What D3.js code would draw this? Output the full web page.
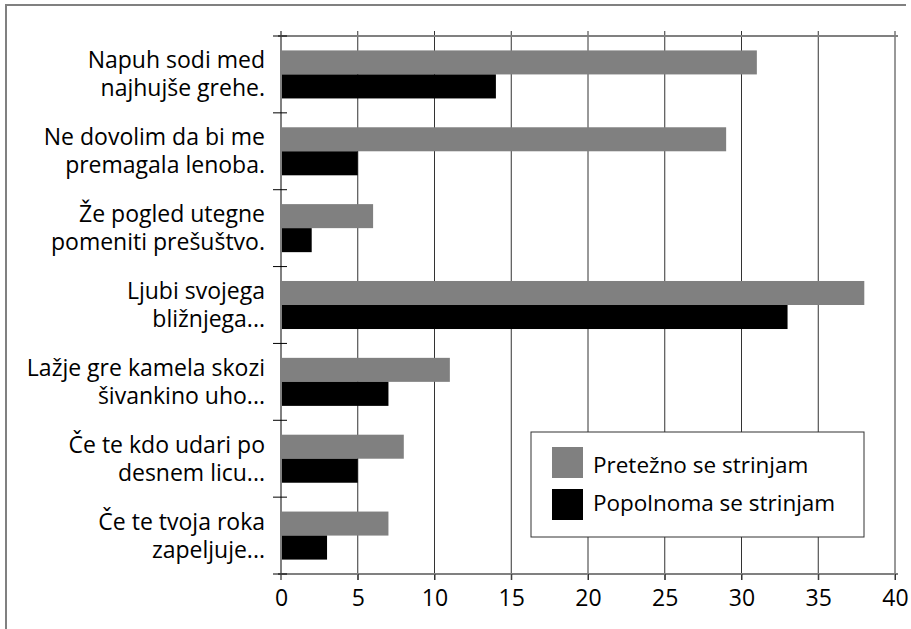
<!DOCTYPE html>
<html>
<head>
<meta charset="utf-8">
<script src="https://cdnjs.cloudflare.com/ajax/libs/d3/7.8.5/d3.min.js"></script>
<style>
  body { margin: 0; background: #fff; }
  text { font-family: "Open Sans", sans-serif; fill: #000; }
</style>
</head>
<body>
<div id="chart"></div>
<script>
// podatki
const categories = [
  ["Napuh sodi med", "najhujše grehe."],
  ["Ne dovolim da bi me", "premagala lenoba."],
  ["Že pogled utegne", "pomeniti prešuštvo."],
  ["Ljubi svojega", "bližnjega..."],
  ["Lažje gre kamela skozi", "šivankino uho..."],
  ["Če te kdo udari po", "desnem licu..."],
  ["Če te tvoja roka", "zapeljuje..."]
];
const seriesNames = ["Pretežno se strinjam", "Popolnoma se strinjam"];
const pretezno = [31, 29, 6, 38, 11, 8, 7];
const popolnoma = [14, 5, 2, 33, 7, 5, 3];
const xTicks = [0, 5, 10, 15, 20, 25, 30, 35, 40];
const colors = ["#808080", "#000000"];

const width = 911, height = 629;
const margin = { top: 36, left: 281 };
const innerWidth = 895 - margin.left;
const innerHeight = 574 - margin.top;

const svg = d3.select("#chart").append("svg")
  .attr("width", width).attr("height", height);

// okvir (viden samo levi in zgornji rob)
svg.append("path").attr("d", "M6,629V5H906")
  .attr("fill", "none").attr("stroke", "#808080").attr("stroke-width", 2);

const g = svg.append("g").attr("transform", `translate(${margin.left},${margin.top})`);

const x = d3.scaleLinear().domain([0, 40]).range([0, innerWidth]);
const y = d3.scaleBand().domain(d3.range(categories.length)).range([0, innerHeight]);
const ySub = d3.scaleBand().domain([0, 1]).range([0, y.bandwidth()]).paddingOuter(0.6);

// mreža
g.selectAll(".grid").data(xTicks.slice(1)).join("line")
  .attr("x1", d => x(d)).attr("x2", d => x(d))
  .attr("y1", -5).attr("y2", innerHeight + 6)
  .attr("stroke", "#333").attr("stroke-width", 1);

// zgornja črta
g.append("line").attr("x1", -3).attr("x2", innerWidth + 3).attr("y1", 0).attr("y2", 0)
  .attr("stroke", "#808080").attr("stroke-width", 2);

// stolpci
const rows = categories.map((c, i) => ({ i, vals: [pretezno[i], popolnoma[i]] }));
const grp = g.selectAll(".grp").data(rows).join("g")
  .attr("transform", d => `translate(0,${y(d.i)})`);
grp.selectAll("rect").data(d => d.vals.map((v, k) => ({ v, k }))).join("rect")
  .attr("x", 0).attr("y", d => ySub(d.k))
  .attr("width", d => x(d.v)).attr("height", ySub.bandwidth())
  .attr("fill", d => colors[d.k]);

// spodnja os
const xAxis = g.append("g").attr("transform", `translate(0,${innerHeight})`)
  .call(d3.axisBottom(x).tickValues(xTicks).tickSize(6).tickPadding(10));
xAxis.select(".domain").attr("stroke", "#808080").attr("stroke-width", 2)
  .attr("d", `M-3,0H${innerWidth + 3}`);
xAxis.selectAll(".tick line").attr("stroke", "#333");
xAxis.selectAll(".tick text").style("font-size", "23px").style("font-family", "Open Sans, sans-serif").attr("fill", "#000");

// leva os
g.append("line").attr("x1", 0).attr("x2", 0).attr("y1", -5).attr("y2", innerHeight + 6)
  .attr("stroke", "#808080").attr("stroke-width", 2);
const bounds = d3.range(categories.length + 1).map(i => i === categories.length ? innerHeight : y(i));
g.selectAll(".ytick").data(bounds).join("line")
  .attr("x1", -8).attr("x2", 6).attr("y1", d => d).attr("y2", d => d)
  .attr("stroke", "#000").attr("stroke-width", 1);

// oznake kategorij
const lab = g.selectAll(".lab").data(categories).join("text")
  .attr("text-anchor", "end")
  .attr("transform", (d, i) => `translate(-16,${y(i) + y.bandwidth() / 2})`)
  .style("font-size", "23px");
lab.selectAll("tspan").data(d => d).join("tspan")
  .attr("x", 0).attr("y", (d, k) => k === 0 ? -6 : 22)
  .text(d => d);

// legenda
const leg = svg.append("g").attr("transform", "translate(531,432)");
leg.append("rect").attr("width", 333).attr("height", 105)
  .attr("fill", "#fff").attr("stroke", "#333").attr("stroke-width", 1);
seriesNames.forEach((s, k) => {
  leg.append("rect").attr("x", 21).attr("y", 15 + k * 42).attr("width", 31).attr("height", 31)
    .attr("fill", colors[k]);
  leg.append("text").attr("x", 62).attr("y", 41 + k * 38).style("font-size", "22.5px").text(s);
});
</script>
</body>
</html>
